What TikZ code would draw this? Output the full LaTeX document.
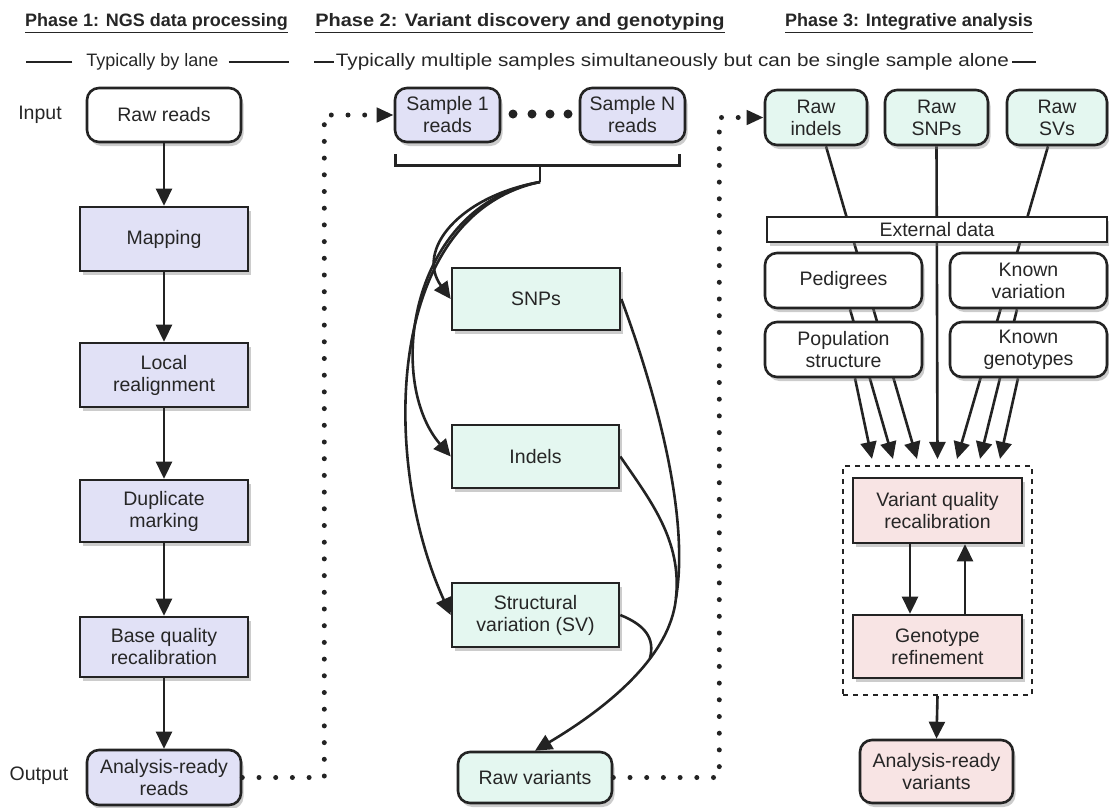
\documentclass[tikz,border=0pt]{standalone}
\usepackage{fontspec}
\setmainfont{Liberation Sans}
\usetikzlibrary{arrows.meta,shadows,backgrounds}
\definecolor{lav}{RGB}{225,225,246}
\definecolor{mint}{RGB}{228,247,240}
\definecolor{blush}{RGB}{248,228,228}
\definecolor{edge}{RGB}{35,35,35}

\begin{document}
\begin{tikzpicture}[x=1pt, y=-1pt,
  every node/.style={font=\fontsize{19.5}{22}\selectfont, text=black!85, align=center},
  box/.style={draw=edge, line width=2.6pt, minimum width=168, minimum height=64, inner sep=2pt,
    drop shadow={opacity=0.4, shadow xshift=2.5pt, shadow yshift=-4pt}},
  rbox/.style={box, rounded corners=12pt, minimum width=154, minimum height=54},
  head/.style={font=\bfseries\fontsize{18}{21.6}\selectfont},
  sub/.style={font=\fontsize{18}{21.6}\selectfont, inner sep=0},
  line/.style={draw=edge, line width=2.6pt},
  arr/.style={line, -{Triangle[length=17pt,width=16pt]}},
  dotted arr/.style={line, line width=5pt, line cap=round, dash pattern=on 0pt off 16.7pt,
    -{Triangle[length=17pt,width=14pt]}}
]
\useasboundingbox (0,0) rectangle (1109,807);

\node[head] (h1) at (156.5,23) {\underline{Phase 1: NGS data processing}};
\node[head] (h2) at (520,23) {\scalebox{1.11}[1]{\underline{Phase 2: Variant discovery and genotyping}}};
\node[head] (h3) at (909,23) {\underline{Phase 3: Integrative analysis}};
\node[sub] (lane) at (152.5,62) {Typically by lane};
\node[sub] (multi) at (672.5,62) {\scalebox{1.15}[1]{Typically multiple samples simultaneously but can be single sample alone}};
\draw[line, line width=1.5pt] ([xshift=-14]lane.west) -- ++(-46,0);
\draw[line, line width=1.5pt] ([xshift=10]lane.east) -- ++(60,0);
\draw[line, line width=1.5pt] ([xshift=-2]multi.west) -- ++(-20,0);
\draw[line, line width=1.5pt] ([xshift=3]multi.east) -- ++(24,0);

\node (input) at (40,115) {Input};
\node (output) at (39,776) {Output};

% phase 1
\node[rbox, fill=white] (rawreads) at (164,115) {Raw reads};
\node[box, fill=lav] (mapping) at (164,239) {Mapping};
\node[box, fill=lav] (realign) at (164,375) {Local\\realignment};
\node[box, fill=lav, minimum height=62] (dupmark) at (164,511) {Duplicate\\marking};
\node[box, fill=lav, minimum height=60] (bqsr) at (164,647) {Base quality\\recalibration};
\node[rbox, fill=lav, minimum height=55] (readyreads) at (164,777.5) {Analysis-ready\\reads};
\foreach \a/\b in {rawreads/mapping, mapping/realign, realign/dupmark, dupmark/bqsr, bqsr/readyreads}
  \draw[arr] (\a) -- (\b);

% phase 2
\node[rbox, fill=lav, minimum width=105] (sample1) at (447.5,115) {Sample 1\\reads};
\node[rbox, fill=lav, minimum width=105] (sampleN) at (632.5,115) {Sample N\\reads};
\foreach \x in {513,532,550,568}
  \fill[edge] (\x,114) circle (4.5);
\draw[line] ([shift={(2,11)}]sample1.south west) -- ([shift={(2,22)}]sample1.south west)
  -| ([shift={(-7,11)}]sampleN.south east);
\coordinate (split) at (540,182);
\draw[line] (split) -- ++(0,-18);
\node[box, fill=mint, minimum height=62] (snps) at (536,299) {SNPs};
\node[box, fill=mint, minimum width=167, minimum height=63] (indels) at (535.5,456.5) {Indels};
\node[box, fill=mint, minimum width=167] (sv) at (535.5,615) {Structural\\variation (SV)};
\node[rbox, fill=mint, minimum height=51] (rawvar) at (535,777.5) {Raw variants};
\draw[arr] (split) .. controls (460,196) and (415,250) .. (snps.west);
\draw[arr] (split) .. controls (410,205) and (385,380) .. (indels.west);
\draw[arr] (split) .. controls (385,215) and (380,460) .. (sv.west);
\coordinate (merge) at (676,598);
\coordinate (svjoin) at (650,658);
\draw[arr] (snps.east) .. controls (655,390) and (690,515) .. (merge)
  .. controls (670,660) and (600,712) .. (rawvar.north);
\draw[line] (indels.east) .. controls (650,500) and (682,540) .. (merge);
\draw[line] (sv.east) .. controls (645,625) and (655,638) .. (svjoin);

% phase 3
\node[rbox, fill=mint, minimum width=102, minimum height=55] (rawindels) at (816,117.5) {Raw\\indels};
\node[rbox, fill=mint, minimum width=103, minimum height=55] (rawsnps) at (936.5,117.5) {Raw\\SNPs};
\node[rbox, fill=mint, minimum width=100, minimum height=55] (rawsvs) at (1057,117.5) {Raw\\SVs};
\node[box, fill=white, minimum width=340, minimum height=25, inner sep=0] (extdata) at (937,229.5) {External data};
\node[rbox, fill=white, minimum width=157, minimum height=55] (pedigrees) at (843.5,280.5) {Pedigrees};
\node[rbox, fill=white, minimum width=157, minimum height=55] (knownvar) at (1028.5,280.5) {Known\\variation};
\node[rbox, fill=white, minimum width=157, minimum height=55] (popstruct) at (843.5,349.5) {Population\\structure};
\node[rbox, fill=white, minimum width=157, minimum height=55] (knowngeno) at (1028.5,349.5) {Known\\genotypes};
\node[draw=edge, line width=2.2pt, dash pattern=on 5pt off 5pt, minimum width=189, minimum height=229] (refinebox) at (937.5,580.5) {};
\node[box, fill=blush, minimum width=169, minimum height=65] (vqr) at (937.5,510.5) {Variant quality\\recalibration};
\node[box, fill=blush, minimum width=169, minimum height=63] (genoref) at (937.5,646.5) {Genotype\\refinement};
\node[rbox, fill=blush, minimum width=153, minimum height=63] (readyvar) at (936.5,771.5) {Analysis-ready\\variants};
\begin{scope}[on background layer]
  \foreach \src/\sx/\tx in {rawindels/10/-20.5, pedigrees/6.5/-44.5, popstruct/11.5/-65.5,
      rawsnps/0/0, rawsvs/-9/19.5, knownvar/-11.5/42.5, knowngeno/-10.5/62.5}
    \draw[arr] ([xshift=\sx]\src.south) -- ([shift={(\tx,-6)}]refinebox.north);
\end{scope}
\draw[arr] ([xshift=-27.5]vqr.south) -- ([xshift=-27.5]genoref.north);
\draw[arr] ([xshift=27.5]genoref.north) -- ([xshift=27.5]vqr.south);
\draw[arr] (refinebox.south) -- (readyvar.north);

\draw[dotted arr] (readyreads.east) -- ++(82,0) |- (sample1.west);
\draw[dotted arr] (rawvar.east) -- ++(106,0) |- (rawindels.west);
\end{tikzpicture}
\end{document}
